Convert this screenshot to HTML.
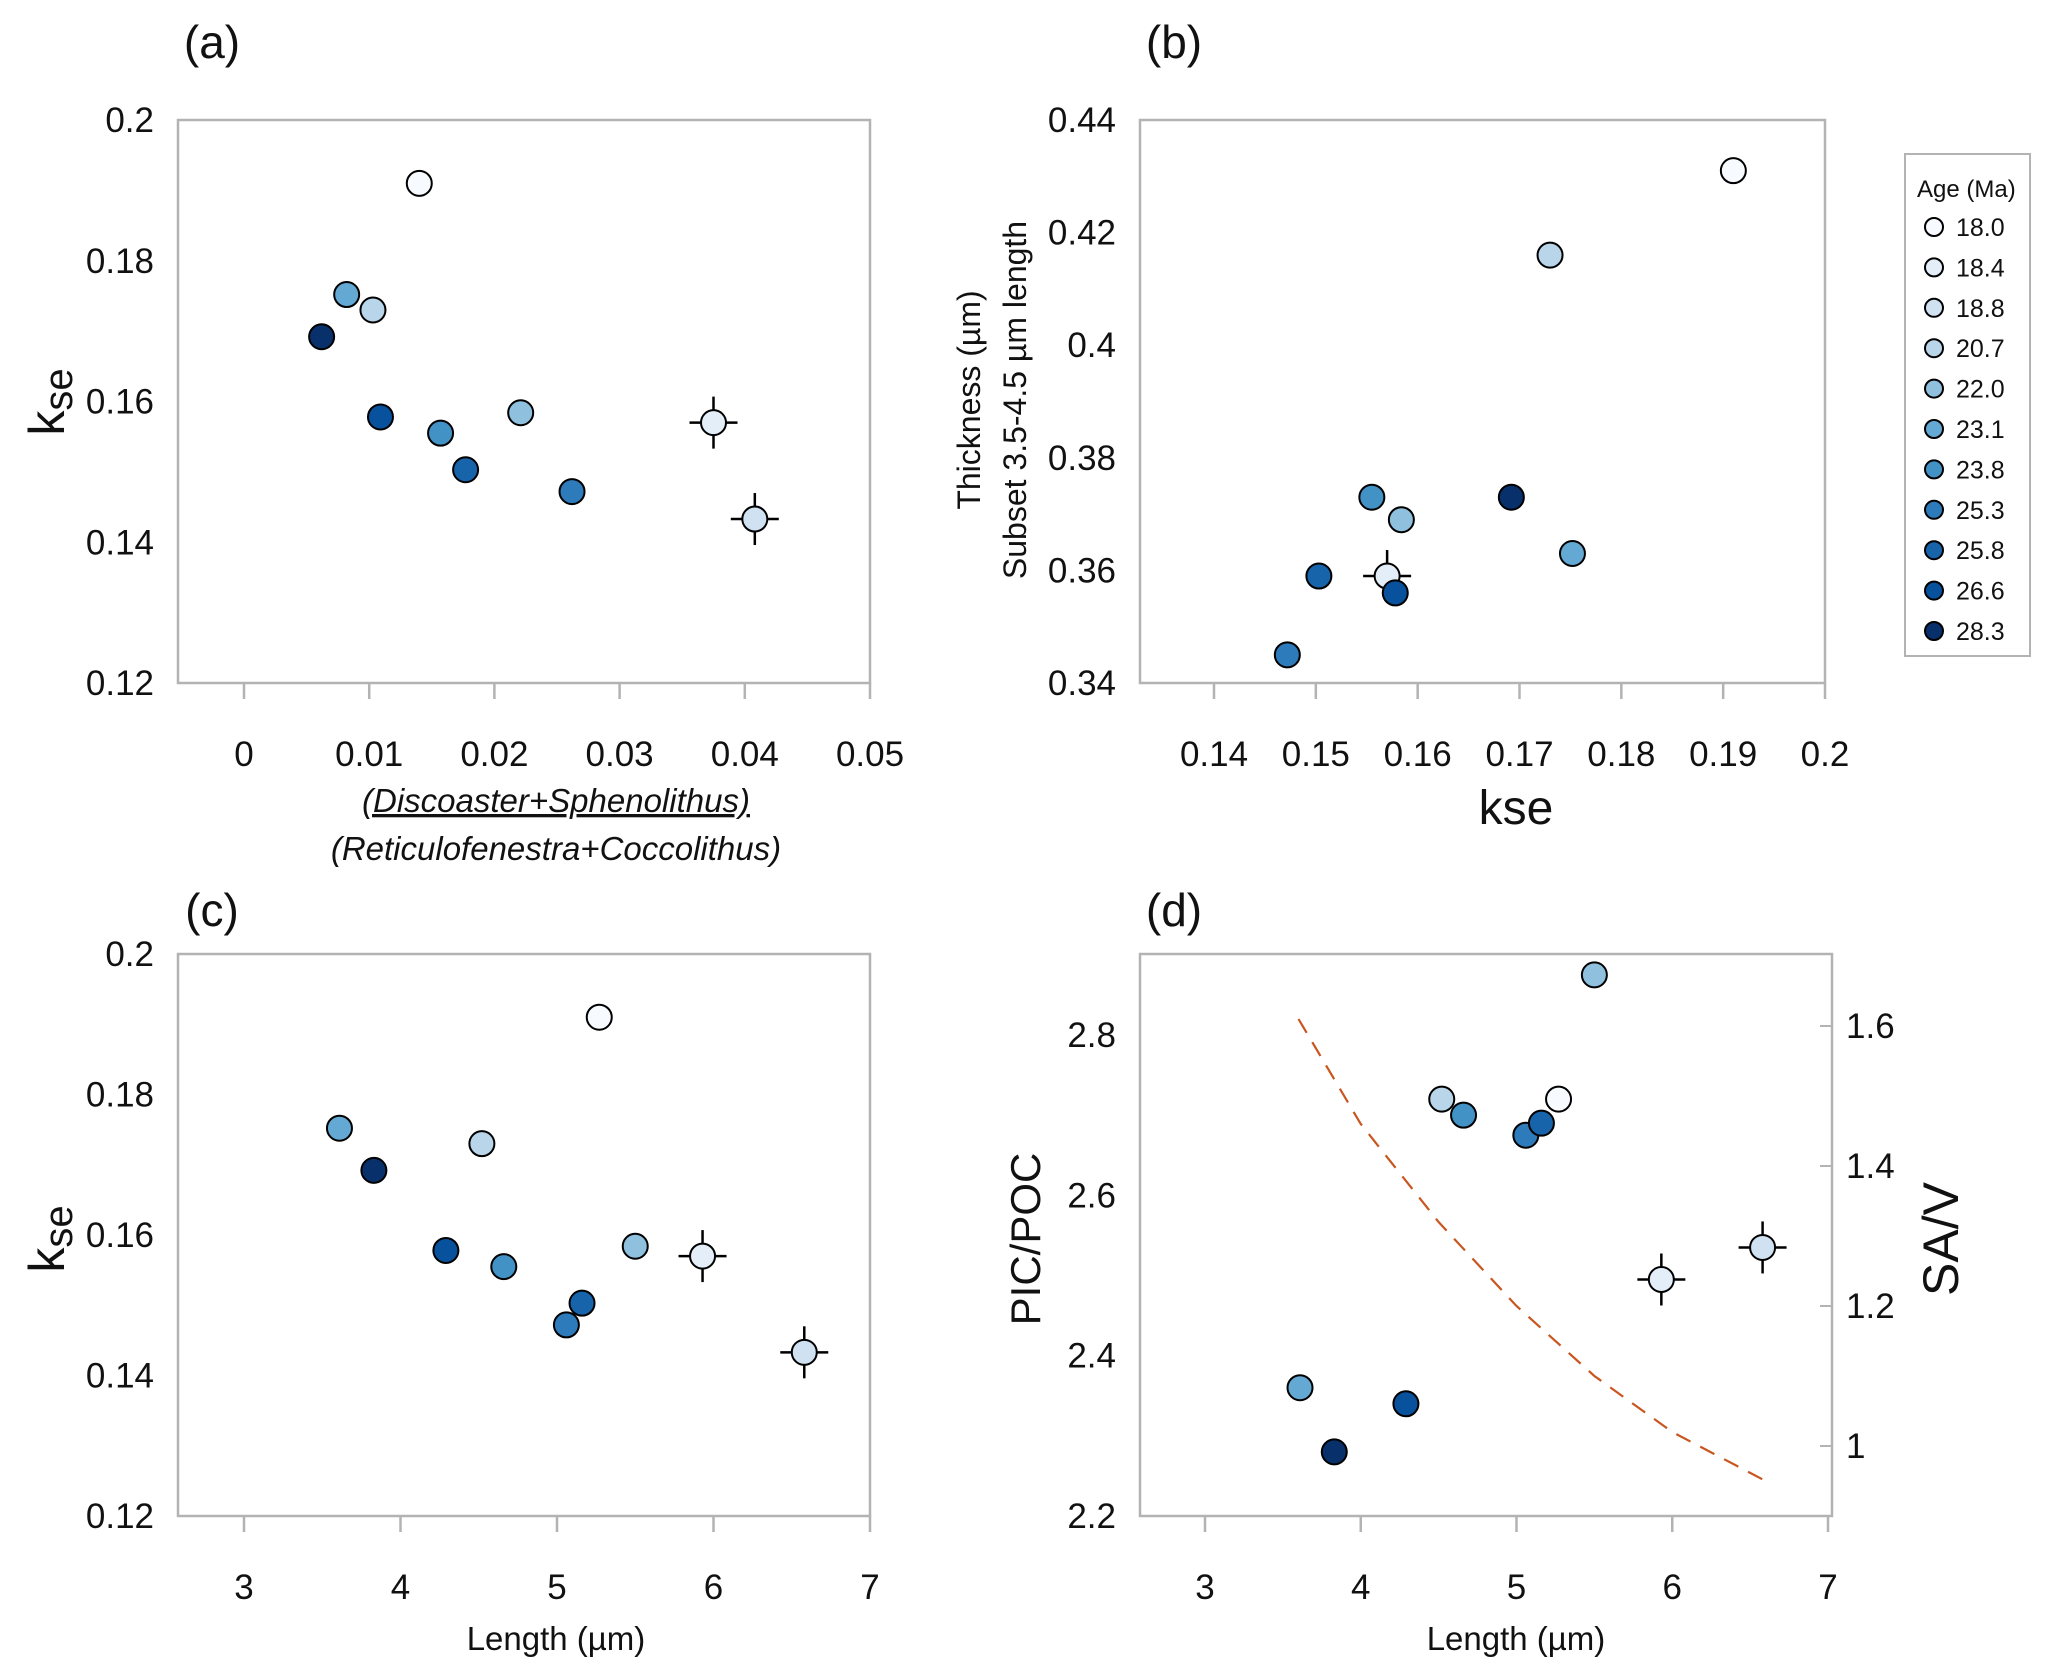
<!DOCTYPE html>
<html><head><meta charset="utf-8">
<style>
html,body{margin:0;padding:0;background:#fff;}
svg{display:block;font-family:"Liberation Sans",sans-serif;}
</style></head>
<body>
<svg id="fig" width="2067" height="1676" viewBox="0 0 2067 1676" xmlns="http://www.w3.org/2000/svg">
<g id="root"></g>
</svg>
<script>
// ---- data ----
const ages = ["18.0","18.4","18.8","20.7","22.0","23.1","23.8","25.3","25.8","26.6","28.3"];
const colors = ["#f7fbff","#e4eef9","#d0e2f2","#b8d5ea","#8fc0de","#64a9d4","#4292c6","#2d7bbb","#1764ab","#08519c","#08306b"];
const kse = [0.191,0.157,0.1433,0.173,0.1584,0.1752,0.1555,0.1472,0.1503,0.1578,0.1692];
const ratio = [0.014,0.0375,0.0408,0.0103,0.0221,0.0082,0.0157,0.0262,0.0177,0.0109,0.0062];
const thickness = [0.431,0.359,null,0.416,0.369,0.363,0.373,0.345,0.359,0.356,0.373];
const lengthUm = [5.27,5.93,6.58,4.52,5.5,3.61,4.66,5.06,5.16,4.29,3.83];
const picpoc = [2.72,2.495,2.535,2.72,2.875,2.36,2.70,2.675,2.69,2.34,2.28];
const errFlag = [false,true,true,false,false,false,false,false,false,false,false];
const savLen = [3.6,4.0,4.5,5.0,5.5,6.0,6.6];
const savVal = [1.61,1.46,1.32,1.2,1.1,1.02,0.95];
const ticksKse = ["0.12","0.14","0.16","0.18","0.2"];
const ticksRatio = ["0","0.01","0.02","0.03","0.04","0.05"];
const ticksThick = ["0.34","0.36","0.38","0.4","0.42","0.44"];
const ticksKseX = ["0.14","0.15","0.16","0.17","0.18","0.19","0.2"];
const ticksLen = ["3","4","5","6","7"];
const ticksPic = ["2.2","2.4","2.6","2.8"];
const ticksSav = ["1","1.2","1.4","1.6"];

const NS="http://www.w3.org/2000/svg";
const root=document.getElementById('root');
function mk(tag,attrs,parent,txt){const e=document.createElementNS(NS,tag);for(const k in attrs)e.setAttribute(k,attrs[k]);if(txt!==undefined)e.textContent=txt;(parent||root).appendChild(e);return e;}
function lin(d0,d1,r0,r1){return v=>r0+(v-d0)*(r1-r0)/(d1-d0);}
const TF=35;

function panel(name,box,xs,ys,xt,yt,xMinor,yMinor){
  const g=mk('g',{});
  
  
  const r=mk('rect',{x:box.x0,y:box.y0,width:box.x1-box.x0,height:box.y1-box.y0,fill:'none',stroke:'#b3b3b3','stroke-width':2.5},g);
  
  
  xt.forEach(t=>{const x=xs(parseFloat(t));
    mk('line',{x1:x,x2:x,y1:box.y1,y2:box.y1+16,stroke:'#b3b3b3','stroke-width':2.5},g);
    const tx=mk('text',{x:x,y:box.y1+83,'font-size':TF,'text-anchor':'middle',fill:'#111'},g,t);
    
    
  });
  yt.forEach(t=>{const y=ys(parseFloat(t));
    const tx=mk('text',{x:box.x0-24,y:y+12,'font-size':TF,'text-anchor':'end',fill:'#111'},g,t);
    
    
  });
  (yMinor||[]).forEach(v=>{const y=ys(v);mk('line',{x1:box.x0,x2:box.x0+12,y1:y,y2:y,stroke:'#b3b3b3','stroke-width':2},g);});
  return g;
}
function points(g,xs,ys,xv,yv){
  xv.forEach((xval,i)=>{const yval=yv[i]; if(yval===null||xval===null)return;
    const cx=xs(xval),cy=ys(yval);
    if(errFlag[i]){
      mk('line',{x1:cx-24,x2:cx+24,y1:cy,y2:cy,stroke:'#000','stroke-width':2.5},g);
      mk('line',{x1:cx,x2:cx,y1:cy-26,y2:cy+26,stroke:'#000','stroke-width':2.5},g);
    }
    const c=mk('circle',{cx:cx,cy:cy,r:12.5,fill:colors[i],stroke:'#000','stroke-width':2},g);
    
    
  });
}
function label(txt,x,y,size,attrs,name){const t=mk('text',Object.assign({x:x,y:y,'font-size':size,'text-anchor':'middle',fill:'#111'},attrs||{}),root,txt);
  
  
  return t;}

// ---- panel a ----
let bA={x0:178,x1:870,y0:120,y1:683};
let xsA=lin(0,0.05,244,870), ysA=lin(0.12,0.2,683,120);
let gA=panel('panel-a',bA,xsA,ysA,ticksRatio,ticksKse,[0.13,0.15,0.17,0.19]);
points(gA,xsA,ysA,ratio,kse);
label('(a)',212,58,46,{},'panel-a-label');
let kA=label('k',0,0,50,{transform:'translate(64,402) rotate(-90)'},'y-axis-title-a');
mk('tspan',{'font-size':40,dy:8},kA,'se');
label('(Discoaster+Sphenolithus)',556,812,33,{'font-style':'italic','text-decoration':'underline'},'x-axis-title-a-numerator');
label('(Reticulofenestra+Coccolithus)',556,860,33,{'font-style':'italic'},'x-axis-title-a-denominator');

// ---- panel b ----
let bB={x0:1140,x1:1825,y0:120,y1:683};
let xsB=lin(0.14,0.2,1214,1825), ysB=lin(0.34,0.44,683,120);
let gB=panel('panel-b',bB,xsB,ysB,ticksKseX,ticksThick,[0.35,0.37,0.39,0.41,0.43]);
points(gB,xsB,ysB,kse,thickness);
label('(b)',1174,58,46,{},'panel-b-label');
label('kse',1516,824,48,{},'x-axis-title-b');
label('Thickness (µm)',0,0,32,{transform:'translate(980,400) rotate(-90)'},'y-axis-title-b-line1');
label('Subset 3.5-4.5 µm length',0,0,32,{transform:'translate(1026,400) rotate(-90)'},'y-axis-title-b-line2');

// legend
const lg=mk('g',{});


mk('rect',{x:1905,y:154,width:125,height:502,fill:'#fff',stroke:'#b3b3b3','stroke-width':2},lg);
mk('text',{x:1917,y:197,'font-size':24,fill:'#111'},lg,'Age (Ma)');
ages.forEach((a,i)=>{const y=227+i*40.4;
  const e=mk('g',{},lg);
  
  
  mk('circle',{cx:1934,cy:y,r:9,fill:colors[i],stroke:'#000','stroke-width':2},e);
  mk('text',{x:1956,y:y+9,'font-size':25,fill:'#111'},e,a);
});

// ---- panel c ----
let bC={x0:178,x1:870,y0:954,y1:1516};
let xsC=lin(3,7,244,870), ysC=lin(0.12,0.2,1516,954);
let gC=panel('panel-c',bC,xsC,ysC,ticksLen,ticksKse,[0.13,0.15,0.17,0.19]);
points(gC,xsC,ysC,lengthUm,kse);
label('(c)',212,926,46,{},'panel-c-label');
let kC=label('k',0,0,50,{transform:'translate(64,1239) rotate(-90)'},'y-axis-title-c');
mk('tspan',{'font-size':40,dy:8},kC,'se');
label('Length (µm)',556,1650,33,{},'x-axis-title-c');

// ---- panel d ----
let bD={x0:1140,x1:1832,y0:954,y1:1516};
let xsD=lin(3,7,1205,1828), ysD=lin(2.2,2.8,1516,1035), ysD2=lin(1,1.6,1446,1026);
let gD=panel('panel-d',bD,xsD,ysD,ticksLen,ticksPic,[2.3,2.5,2.7]);
ticksSav.forEach(t=>{const y=ysD2(parseFloat(t));
  mk('line',{x1:bD.x1-12,x2:bD.x1,y1:y,y2:y,stroke:'#b3b3b3','stroke-width':2},gD);
  const tx=mk('text',{x:bD.x1+14,y:y+12,'font-size':TF,fill:'#111'},gD,t);
  
  
});
let dpath='';
savLen.forEach((l,i)=>{dpath+=(i?'L':'M')+xsD(l).toFixed(1)+','+ysD2(savVal[i]).toFixed(1);});
const cur=mk('path',{d:dpath,fill:'none',stroke:'#c9561f','stroke-width':2.2,'stroke-dasharray':'16,11'},gD);


points(gD,xsD,ysD,lengthUm,picpoc);
label('(d)',1174,926,46,{},'panel-d-label');
label('PIC/POC',0,0,42,{transform:'translate(1040,1239) rotate(-90)'},'y-axis-title-d');
label('SA/V',0,0,50,{transform:'translate(1958,1239) rotate(-90)'},'y2-axis-title-d');
label('Length (µm)',1516,1650,33,{},'x-axis-title-d');
</script>
</body></html>
